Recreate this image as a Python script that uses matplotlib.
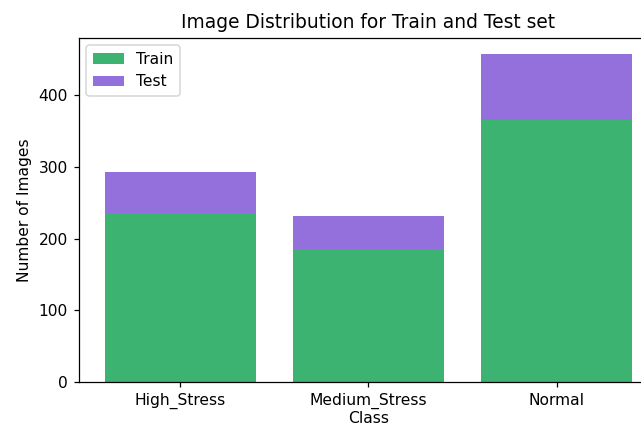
import matplotlib
matplotlib.use('Agg')
import matplotlib.pyplot as plt

# Data
classes = ['High_Stress', 'Medium_Stress', 'Normal']
train_counts = [236, 186, 365]
test_counts = [57, 46, 92]

dpi = 112
fig = plt.figure(figsize=(641 / dpi, 427 / dpi), dpi=dpi)
ax = fig.add_axes([0.1228, 0.1047, 0.904, 0.807])

ax.bar(classes, train_counts, color='mediumseagreen', label='Train')
ax.bar(classes, test_counts, bottom=train_counts, color='mediumpurple', label='Test')

ax.set_title('Image Distribution for Train and Test set')
ax.set_xlabel('Class', labelpad=1)
ax.set_ylabel('Number of Images')
ax.legend(loc='upper left')

fig.savefig('out.png', dpi=dpi)
